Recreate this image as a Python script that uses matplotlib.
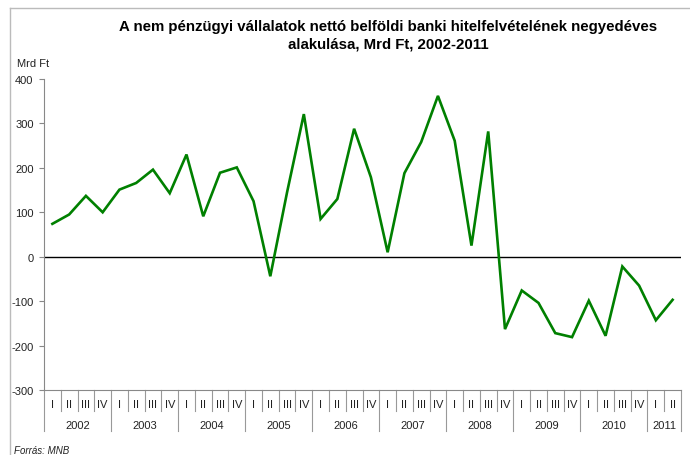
import matplotlib
matplotlib.use("Agg")
import matplotlib.pyplot as plt
from matplotlib.lines import Line2D

plt.rcParams['font.family'] = ['Liberation Sans', 'DejaVu Sans']

years = ["2002", "2003", "2004", "2005", "2006", "2007", "2008", "2009", "2010", "2011"]
quarters_per_year = [4, 4, 4, 4, 4, 4, 4, 4, 4, 2]
quarter_names = ["I", "II", "III", "IV"]
values = [74, 95, 137, 100,
          151, 166, 196, 143,
          230, 91, 189, 201,
          125, -44, 145, 321,
          85, 130, 288, 179,
          10, 188, 258, 362,
          261, 25, 282, -163,
          -76, -104, -172, -181,
          -99, -178, -22, -65,
          -143, -97]
yticks = [-300, -200, -100, 0, 100, 200, 300, 400]

W, H = 690, 456
fig = plt.figure(figsize=(W / 100, H / 100), dpi=100)
ax = fig.add_axes([44 / W, 1 - 391 / H, (681 - 44) / W, (391 - 80) / H])

n = len(values)
xs = [i + 0.5 for i in range(n)]
ax.plot(xs, values, color="#008000", lw=1.9, solid_joinstyle="miter", zorder=3)
ax.axhline(0, color="black", lw=1.0, zorder=2)

ax.set_xlim(0, n)
ax.set_ylim(-300, 400)
ax.set_yticks(yticks)
ax.set_yticklabels([str(v) for v in yticks], fontsize=8, color="#222222")
ax.tick_params(axis="y", direction="out", length=3.5, width=0.8, color="#888888", pad=4)
ax.set_xticks([])
for s in ["top", "right"]:
    ax.spines[s].set_visible(False)
ax.spines["left"].set_color("#888888")
ax.spines["bottom"].set_color("#888888")
ax.spines["left"].set_linewidth(0.8)
ax.spines["bottom"].set_linewidth(0.8)

# category axis (quarters and years)
trans = ax.get_xaxis_transform()
ah = 391 - 80
q_len = 21 / ah
y_len = 41 / ah
pos = 0
bounds = [0]
for yr, nq in zip(years, quarters_per_year):
    for q in range(nq):
        ax.text(pos + q + 0.5, -14 / ah, quarter_names[q], transform=trans,
                ha="center", va="center", fontsize=8, color="#222222")
        if q > 0:
            ax.add_line(Line2D([pos + q, pos + q], [0, -q_len], transform=trans,
                               color="#999999", lw=0.8, clip_on=False))
    ax.text(pos + nq / 2, -35 / ah, yr, transform=trans, ha="center", va="center",
            fontsize=8, color="#222222")
    pos += nq
    bounds.append(pos)
for b in bounds:
    ax.add_line(Line2D([b, b], [0, -y_len], transform=trans,
                       color="#999999", lw=0.8, clip_on=False))

# frame lines
fig.add_artist(Line2D([10 / W, 1], [1 - 9 / H, 1 - 9 / H], transform=fig.transFigure,
                      color="#bbbbbb", lw=1.0))
fig.add_artist(Line2D([10 / W, 10 / W], [0, 1 - 9 / H], transform=fig.transFigure,
                      color="#bbbbbb", lw=1.0))

fig.text(388 / W, 1 - 35.5 / H,
         "A nem pénzügyi vállalatok nettó belföldi banki hitelfelvételének negyedéves\nalakulása, Mrd Ft, 2002-2011",
         ha="center", va="center", fontsize=10.8, fontweight="bold", linespacing=1.3)
fig.text(17 / W, 1 - 64 / H, "Mrd Ft", ha="left", va="center", fontsize=8, color="#222222")
fig.text(14 / W, 1 - 451 / H, "Forrás: MNB", ha="left", va="center", fontsize=7,
         style="italic", color="#222222")

fig.savefig("out.png", dpi=100)
